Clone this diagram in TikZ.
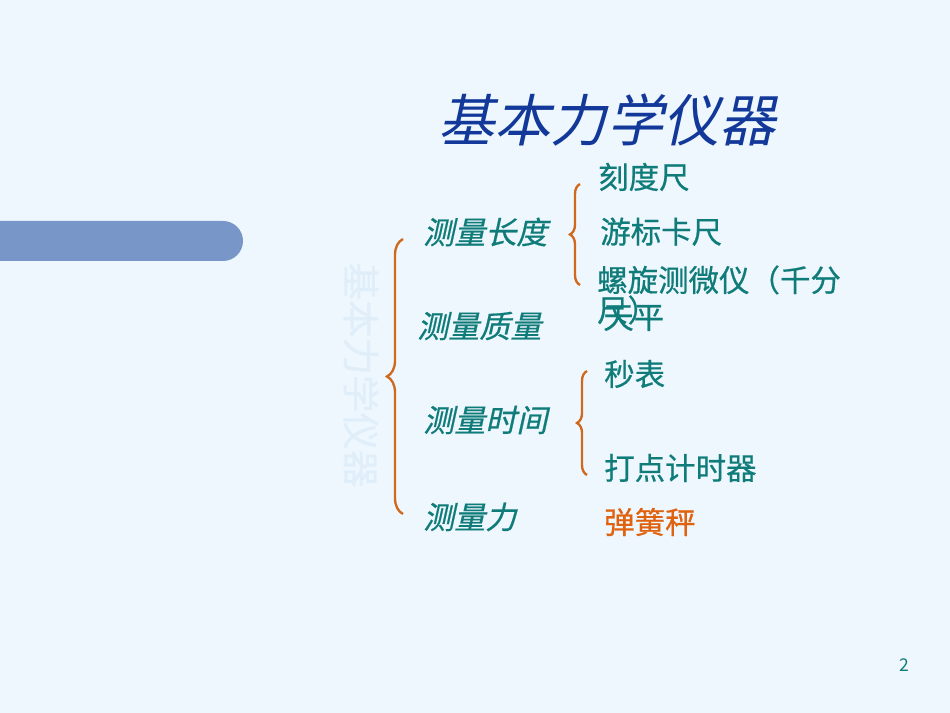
\documentclass[tikz,border=0pt]{standalone}
\usepackage{fontspec}
\setmainfont{Noto Sans CJK SC}
\newfontfamily\cjkslant[FakeSlant=0.22, FakeBold=0.6]{Noto Sans CJK SC}
\newfontfamily\cjkplain[FakeBold=0.6]{Noto Sans CJK SC}
\newfontfamily\cjktitle[FakeSlant=0.22]{Noto Sans CJK SC}
\usepackage{xcolor}
\usepackage{tikz}
\usetikzlibrary{positioning, decorations.pathreplacing, calc}

\definecolor{pagebg}{HTML}{EEF7FE}
\definecolor{barblue}{HTML}{7896C8}
\definecolor{titleblue}{HTML}{12389A}
\definecolor{itemteal}{HTML}{0F7C7A}
\definecolor{braceorange}{HTML}{D0691E}
\definecolor{springorange}{HTML}{E0620F}
\definecolor{ghost}{HTML}{E0EEFA}

\tikzstyle{title} = [anchor=center, inner sep=0pt, text=titleblue, font=\cjktitle\fontsize{48}{50}\selectfont]
\tikzstyle{group} = [anchor=west, inner sep=0pt, text=itemteal, font=\cjkslant\fontsize{26.5}{28}\selectfont]
\tikzstyle{item} = [anchor=west, inner sep=0pt, text=itemteal, font=\cjkplain\fontsize{26}{27}\selectfont]
\tikzstyle{curly} = [braceorange, line width=2pt, decorate]

\begin{document}
\begin{tikzpicture}[x=0.03cm, y=0.03cm]
    % Background
    \fill[pagebg] (0,0) rectangle (950,713);
    \useasboundingbox (0,0) rectangle (950,713);
    \fill[barblue, rounded corners=20*0.03cm] (-30,452) rectangle (243,492);
    \fill[barblue] (0,452) rectangle (100,492);

    % Title
    \node[title] (heading) at (607,593) {基本力学仪器};
    \node[rotate=-90, text=ghost, inner sep=0pt, font=\cjkplain\fontsize{32}{34}\selectfont] (shadow) at (361,338) {基本力学仪器};

    % Groups
    \node[group] (length) at (423,481) {测量长度};
    \node[group] (mass) at (417,387) {测量质量};
    \node[group] (time) at (423,293) {测量时间};
    \node[group] (force) at (423,196) {测量力};

    % Instruments
    \node[item] (ruler) at (598,536) {刻度尺};
    \node[item, below=26*0.03cm of ruler.south west, anchor=north west, xshift=2*0.03cm] (caliper) {游标卡尺};
    \node[item] (micro) at (597,433) {螺旋测微仪（千分};
    \node[item] (microend) at (597,403) {尺）};
    \node[item] (balance) at (603,395) {天平};
    \node[item] (watch) at (604,339) {秒表};
    \node[item] (timer) at (604,245) {打点计时器};
    \node[item, text=springorange] (spring) at (604,191) {弹簧秤};

    % Braces
    \coordinate (bigtop) at (403,474);
    \coordinate (bigbot) at (403,199);
    \coordinate (lentop) at (580,529);
    \coordinate (lenbot) at (580,428);
    \coordinate (timtop) at (587,342);
    \coordinate (timbot) at (587,238);
    \draw[curly, decoration={brace, amplitude=16*0.03cm, aspect=0.5}] (bigbot) -- (bigtop);
    \draw[curly, decoration={brace, amplitude=10*0.03cm, aspect=0.5}] (lenbot) -- (lentop);
    \draw[curly, decoration={brace, amplitude=10*0.03cm, aspect=0.5}] (timbot) -- (timtop);

    % Page number
    \node[text=itemteal, inner sep=0pt, font=\fontsize{15}{16}\selectfont] (pagenum) at (904,48) {2};
\end{tikzpicture}
\end{document}
